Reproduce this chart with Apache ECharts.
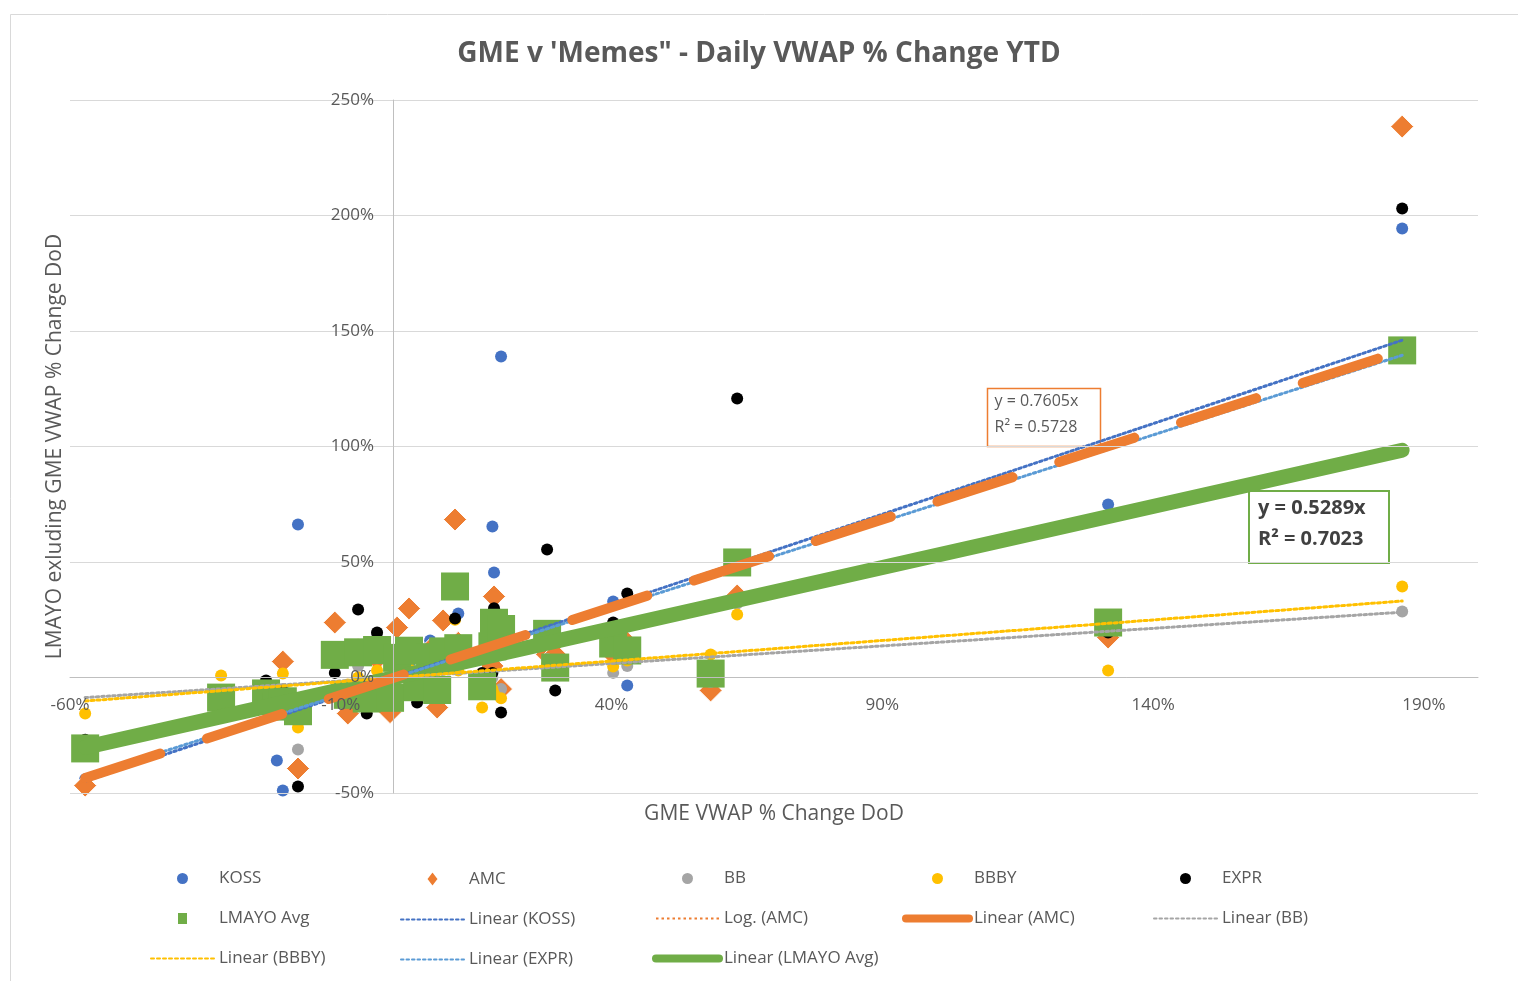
<!DOCTYPE html>
<html>
<head>
<meta charset="utf-8">
<title>GME v 'Memes" - Daily VWAP % Change YTD</title>
<script src="https://cdn.jsdelivr.net/npm/echarts/dist/echarts.min.js"></script>
<style>
  html, body { margin: 0; padding: 0; background: #fff; }
  #main { width: 1518px; height: 981px; }
</style>
</head>
<body>
<div id="main"></div>
<script>
// GME VWAP % change day over day (x), one entry per trading day
const gmeChange = [-57.2, -32.1, -23.8, -21.8, -20.7, -17.9, -11.1, -8.7, -6.8, -5.2, -3.3, -0.9, 0.4, 2.6, 4.1, 6.5,
                   7.8, 8.9, 11.1, 11.7, 16.1, 18.0, 18.3, 19.6, 28.1, 29.6, 40.3, 42.9, 58.3, 63.2, 131.7, 186.0]
// same day VWAP % change of each meme stock
const koss = [-44, -12, -10, -35.9, -48.9, 66.2, 23.4, -10, 8, -12, 10, -8, 5, 6, -2, 16,
              -4, 12, 40, 27.7, 0, 65.4, 45.5, 139, 15, 8, 32.9, -3.5, -3, 34, 74.9, 194.4]
const amc = [-46.8, -14, -12, -8, 6.9, -39.4, 23.8, -15.6, 12, -8, 8, -15, 21.6, 29.9, -5, 12,
             -13, 24.7, 68.4, 15, -5, 5, 35.1, -5, 10, 10, 10, 15, -5.6, 35.5, 17.3, 238.5]
const bb = [-28, -10, -6, -8, -5, -31.2, 5, -5, 5, -6, 19, -10, 8, 8, -3, 5,
            -5, 6, 38, 8, -3, 0, 15, -5, 8, 5, 2, 5, -2, 32, 20, 28.6]
const bbby = [-15.6, 0.9, -4, -6, 1.7, -21.6, -5, -3, 0, -4, 3, -5, 2, 4, 0, 3,
              -2, 4, 25, 3, -13, -5, -7, -9, 6, 4, 4.8, 7.4, 10, 27.3, 3, 39.4]
const expr = [-27, -9, -1.3, -5, -6, -47.2, 2, -4, 29.4, -15.6, 19.5, -6, 6, 10, -10.8, 8,
              -3, 10, 25.5, 10, 2, 2, 30, -15.2, 55.4, -5.6, 23.8, 36.4, 2, 120.8, 19.5, 203]
const lmayoAvg = [-30.7, -8.7, -6.9, -12.6, -10.3, -14.6, 9.8, -7.5, 10.9, -9.1, 11.9, -8.8, 8.5, 11.6, -4.2, 8.8,
                  -5.4, 11.3, 39.4, 12.7, -3.8, 13.5, 23.7, 21, 18.9, 4.3, 14.7, 11.7, 1.7, 49.8, 23.8, 141.6]

// trendline slopes (intercept set to 0 in the workbook)
const trendNames = ['Linear (KOSS)', 'Linear (AMC)', 'Linear (BB)', 'Linear (BBBY)', 'Linear (EXPR)', 'Linear (LMAYO Avg)']
const trendSlopes = [0.785, 0.7605, 0.152, 0.178, 0.75, 0.5289]

const font = '"Open Sans", Lato, sans-serif'
const textGrey = '#595959'

const chart = echarts.init(document.getElementById('main'))

function points(ys) {
    return gmeChange.map((x, i) => [x, ys[i]])
}

function scatter(name, ys, symbol, size, color, z, border) {
    return {
        name: name,
        type: 'scatter',
        data: points(ys),
        symbol: symbol,
        symbolSize: size,
        itemStyle: {color: color, opacity: 1, borderColor: border ? '#fff' : null, borderWidth: border ? 1 : 0},
        z: z,
        silent: true
    }
}

function trend(idx, color, width, type, z) {
    const x0 = Math.min(...gmeChange)
    const x1 = Math.max(...gmeChange)
    const k = trendSlopes[idx]
    return {
        name: trendNames[idx],
        type: 'line',
        data: [[x0, k * x0], [x1, k * x1]],
        symbol: 'none',
        showSymbol: false,
        lineStyle: {color: color, width: width, type: type, cap: 'round'},
        itemStyle: {color: color},
        z: z,
        silent: true
    }
}

// one vertical legend per column so the columns line up like the original
const legendCols = [
    ['KOSS', 'LMAYO Avg', 'Linear (BBBY)'],
    ['AMC', 'Linear (KOSS)', 'Linear (EXPR)'],
    ['BB', 'Log. (AMC)', 'Linear (LMAYO Avg)'],
    ['BBBY', 'Linear (AMC)'],
    ['EXPR', 'Linear (BB)']
]
const legendLeft = [150, 400, 652, 902, 1153]

function legendItem(name) {
    if (name === 'AMC') return {name: name, icon: 'path://M5,0L10,6.5L5,13L0,6.5Z'}
    if (name === 'LMAYO Avg') return {name: name, icon: 'path://M0,0H9V11H0Z'}
    if (name === 'Linear (AMC)' || name === 'Linear (LMAYO Avg)') {
        return {name: name, lineStyle: {type: 'solid', width: 8, cap: 'round'}, itemStyle: {opacity: 0}}
    }
    if (name.indexOf('(') > 0) return {name: name, itemStyle: {opacity: 0}}
    return {name: name}
}

const legends = legendCols.map((col, i) => ({
    orient: 'vertical',
    left: legendLeft[i],
    top: 870,
    height: 110,
    itemWidth: 63,
    itemHeight: i === 1 ? 16 : 11,
    itemGap: 23,
    padding: 0,
    selectedMode: false,
    textStyle: {color: textGrey, fontSize: 17, fontFamily: font},
    data: col.map(legendItem)
}))

const option = {
    animation: false,
    backgroundColor: '#fff',
    textStyle: {fontFamily: font},
    title: {
        text: 'GME v \'Memes" - Daily VWAP % Change YTD',
        left: 'center',
        top: 35,
        textStyle: {color: textGrey, fontSize: 28, fontWeight: 'bold', fontFamily: font}
    },
    legend: legends,
    grid: {left: 70, right: 40, top: 100, bottom: 188, containLabel: false, outerBoundsMode: 'none'},
    xAxis: {
        type: 'value',
        min: -60,
        max: 200,
        interval: 50,
        z: 10,
        position: 'bottom',
        offset: -116,
        splitLine: {show: false},
        axisTick: {show: false},
        axisLine: {show: true, onZero: false, lineStyle: {color: '#bfbfbf', width: 1}},
        axisLabel: {
            color: textGrey, fontSize: 17, fontFamily: font, margin: 20,
            formatter: v => (v > 195 ? '' : v + '%')
        },
        name: 'GME VWAP % Change DoD',
        nameLocation: 'middle',
        nameGap: 127,
        nameTextStyle: {color: textGrey, fontSize: 21, fontFamily: font}
    },
    yAxis: {
        type: 'value',
        min: -50,
        max: 250,
        interval: 50,
        z: 10,
        position: 'left',
        offset: -323,
        splitLine: {show: true, lineStyle: {color: '#d9d9d9', width: 1}},
        axisTick: {show: false},
        axisLine: {show: true, onZero: false, lineStyle: {color: '#bfbfbf', width: 1}},
        axisLabel: {color: textGrey, fontSize: 17, fontFamily: font, margin: 19, formatter: v => v + '%'},
        name: 'LMAYO exluding GME VWAP % Change DoD',
        nameLocation: 'middle',
        nameGap: 327,
        nameTextStyle: {color: textGrey, fontSize: 21, fontFamily: font}
    },
    series: [
        scatter('KOSS', koss, 'circle', 12, '#4472C4', 2),
        scatter('AMC', amc, 'diamond', 23, '#ED7D31', 2, true),
        scatter('BB', bb, 'circle', 12, '#A5A5A5', 2),
        scatter('BBBY', bbby, 'circle', 12, '#FFC000', 2),
        scatter('EXPR', expr, 'circle', 12, '#000000', 2),
        scatter('LMAYO Avg', lmayoAvg, 'rect', 28, '#70AD47', 3),
        trend(5, '#70AD47', 15, 'solid', 4),
        trend(0, '#4472C4', 3, [2.5, 3], 5),
        trend(4, '#5B9BD5', 3, [2.5, 3], 5),
        {
            // log fit of AMC has no values for negative x, so it only shows in the legend
            name: 'Log. (AMC)',
            type: 'line',
            data: [],
            symbol: 'none',
            lineStyle: {color: '#ED7D31', width: 3, type: [2.5, 3]},
            itemStyle: {color: '#ED7D31'}
        },
        trend(2, '#A5A5A5', 3, [2.5, 3], 6),
        trend(3, '#FFC000', 3, [3, 3], 6),
        trend(1, '#ED7D31', 10, [79, 49], 7)
    ],
    graphic: [
        {
            type: 'rect', left: 8, top: 12, silent: true, z: -10,
            shape: {width: 1520, height: 980},
            style: {fill: null, stroke: '#d9d9d9', lineWidth: 1}
        },
        {
            type: 'group', left: 985, top: 386, z: 100,
            children: [
                {type: 'rect', shape: {width: 113, height: 58}, style: {fill: null, stroke: '#ED7D31', lineWidth: 1.5}},
                {type: 'text', left: 7, top: 5, style: {text: 'y = 0.7605x', fill: textGrey, fontSize: 16, fontFamily: font}},
                {type: 'text', left: 7, top: 31, style: {text: 'R² = 0.5728', fill: textGrey, fontSize: 16, fontFamily: font}}
            ]
        },
        {
            type: 'group', left: 1248, top: 490, z: 100,
            children: [
                {type: 'rect', shape: {width: 140, height: 72}, style: {fill: '#fff', stroke: '#70AD47', lineWidth: 2}},
                {type: 'text', left: 9, top: 7, style: {text: 'y = 0.5289x', fill: '#404040', fontSize: 20, fontWeight: 'bold', fontFamily: font}},
                {type: 'text', left: 9, top: 38, style: {text: 'R² = 0.7023', fill: '#404040', fontSize: 20, fontWeight: 'bold', fontFamily: font}}
            ]
        }
    ]
}

chart.setOption(option)
</script>
</body>
</html>
